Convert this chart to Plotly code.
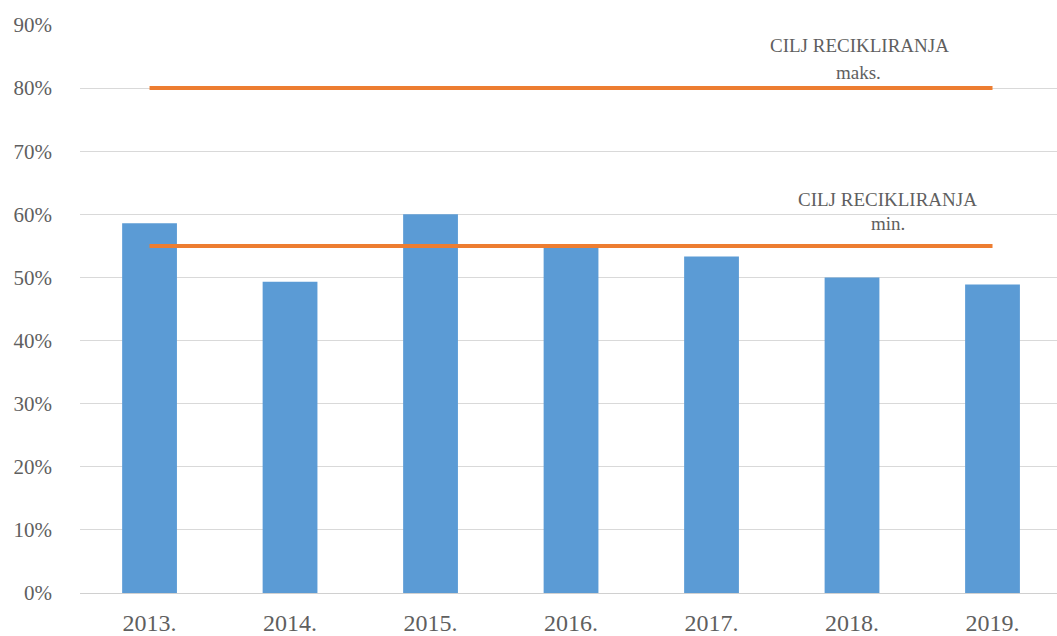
import plotly.graph_objects as go

years = ["2013.", "2014.", "2015.", "2016.", "2017.", "2018.", "2019."]
recycling_rate = [0.586, 0.493, 0.600, 0.550, 0.533, 0.500, 0.489]
target_max = 0.80
target_min = 0.55
y_ticks = [0, 0.1, 0.2, 0.3, 0.4, 0.5, 0.6, 0.7, 0.8, 0.9]
y_tick_labels = ["0%", "10%", "20%", "30%", "40%", "50%", "60%", "70%", "80%", "90%"]

serif = "Liberation Serif"
text_grey = "#5f5f5f"

fig = go.Figure()
fig.add_trace(go.Bar(
    x=years, y=recycling_rate,
    marker=dict(color="#5B9BD5", line=dict(width=0)),
    width=0.39, showlegend=False, hoverinfo="x+y",
))
for level in (target_max, target_min):
    fig.add_trace(go.Scatter(
        x=years, y=[level] * len(years), mode="lines",
        line=dict(color="#ED7D31", width=4),
        showlegend=False, hoverinfo="y",
    ))

# target labels: (text, x in paper units, y in data units)
labels = [
    ("CILJ RECIKLIRANJA", 0.798, 0.867),
    ("maks.", 0.797, 0.825),
    ("CILJ RECIKLIRANJA", 0.826, 0.624),
    ("min.", 0.827, 0.586),
]
for txt, xv, yv in labels:
    fig.add_annotation(
        x=xv, xref="paper", y=yv, yref="y", text=txt, showarrow=False,
        font=dict(family=serif, size=19, color=text_grey),
        xanchor="center", yanchor="middle",
    )

fig.update_layout(
    width=1057, height=636,
    margin=dict(l=80, r=0, t=25, b=43),
    paper_bgcolor="white", plot_bgcolor="white",
    font=dict(family=serif, color=text_grey),
)
fig.update_xaxes(
    type="category", range=[-0.495, 6.459],
    showgrid=False, showline=True, linecolor="#d0d0d0",
    linewidth=1, ticks="", tickfont=dict(family=serif, size=24, color=text_grey),
    ticklabelstandoff=8,
)
fig.update_yaxes(
    range=[0, 0.9], tickvals=y_ticks, ticktext=y_tick_labels,
    showgrid=True, gridcolor="#d9d9d9", gridwidth=1, zeroline=False,
    showline=False, ticks="", tickfont=dict(family=serif, size=21, color=text_grey),
    ticklabelstandoff=27,
)

fig.write_html("out.html")
